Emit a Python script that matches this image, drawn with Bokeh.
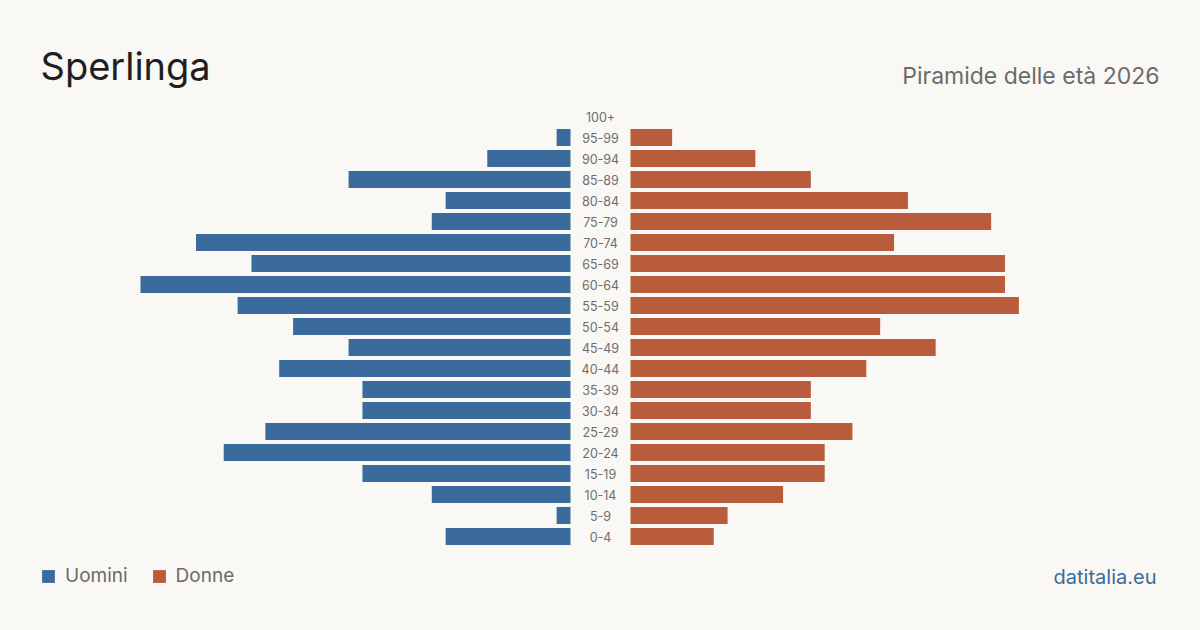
from bokeh.plotting import figure
from bokeh.models import ColumnDataSource, Range1d, Label, Legend, LegendItem
from bokeh.core.properties import value
from bokeh.embed import file_html
from bokeh.resources import INLINE

# Age classes from youngest to oldest
age_groups = ["0-4", "5-9", "10-14", "15-19", "20-24", "25-29", "30-34", "35-39",
              "40-44", "45-49", "50-54", "55-59", "60-64", "65-69", "70-74",
              "75-79", "80-84", "85-89", "90-94", "95-99", "100+"]
# Residents per class
men = [9, 1, 10, 15, 25, 22, 15, 15, 21, 16, 20, 24, 31, 23, 27, 10, 9, 16, 6, 1, 0]
women = [6, 7, 11, 14, 14, 16, 13, 13, 17, 22, 18, 28, 27, 27, 19, 26, 20, 13, 9, 3, 0]

BG = "#f9f8f4"
BLUE = "#3a6b9c"
RUST = "#b85c3c"
FONT = "Inter"

W, H = 1200, 630
px_per_person = 430 / 31
half_gap = 30 / px_per_person  # room for the age labels in the middle
half_span = (W / 2) / px_per_person

rows = list(range(len(age_groups)))
src = ColumnDataSource(dict(
    y=rows,
    age=age_groups,
    men=men,
    women=women,
    m_left=[-half_gap - v for v in men],
    m_right=[-half_gap] * len(men),
    w_left=[half_gap] * len(women),
    w_right=[half_gap + v for v in women],
    zero=[0] * len(rows),
))

p = figure(width=W, height=H, output_backend="svg", toolbar_location=None,
           x_range=Range1d(-half_span, half_span),
           y_range=Range1d(-94 / 21, 536 / 21),
           min_border=0, background_fill_color=BG, border_fill_color=BG,
           outline_line_color=None)
p.axis.visible = False
p.grid.visible = False

bh = 17 / 21
male_r = p.hbar(y="y", left="m_left", right="m_right", height=bh, source=src,
                fill_color=BLUE, line_color=None)
female_r = p.hbar(y="y", left="w_left", right="w_right", height=bh, source=src,
                  fill_color=RUST, line_color=None)

p.text(x="zero", y="y", text="age", source=src, text_align="center",
       text_baseline="middle", text_font=value(FONT), text_font_size="12.5px",
       text_color="#6e6e6e")

p.add_layout(Label(x=40, y=H - 65, x_units="screen", y_units="screen",
                   text="Sperlinga", text_font=FONT, text_font_size="38px",
                   text_color="#1f1f1f", text_baseline="alphabetic"))
p.add_layout(Label(x=1159, y=H - 75, x_units="screen", y_units="screen",
                   text="Piramide delle età 2026", text_font=FONT,
                   text_font_size="23px", text_color="#6b6b6b",
                   text_align="right", text_baseline="alphabetic"))
p.add_layout(Label(x=1156, y=H - 576, x_units="screen", y_units="screen",
                   text="datitalia.eu", text_font=FONT, text_font_size="20px",
                   text_color=BLUE, text_align="right",
                   text_baseline="alphabetic"))

legend = Legend(items=[LegendItem(label="Uomini", renderers=[male_r]),
                       LegendItem(label="Donne", renderers=[female_r])],
                location=(40, H - 587), orientation="horizontal",
                glyph_width=16, glyph_height=16, label_height=16,
                label_standoff=9, spacing=23, padding=0, margin=0,
                border_line_color=None, background_fill_alpha=0,
                label_text_font=FONT, label_text_font_size="19px",
                label_text_color="#6b6b6b", label_text_baseline="middle")
p.add_layout(legend)

open("out.html", "w").write(file_html(p, INLINE))
